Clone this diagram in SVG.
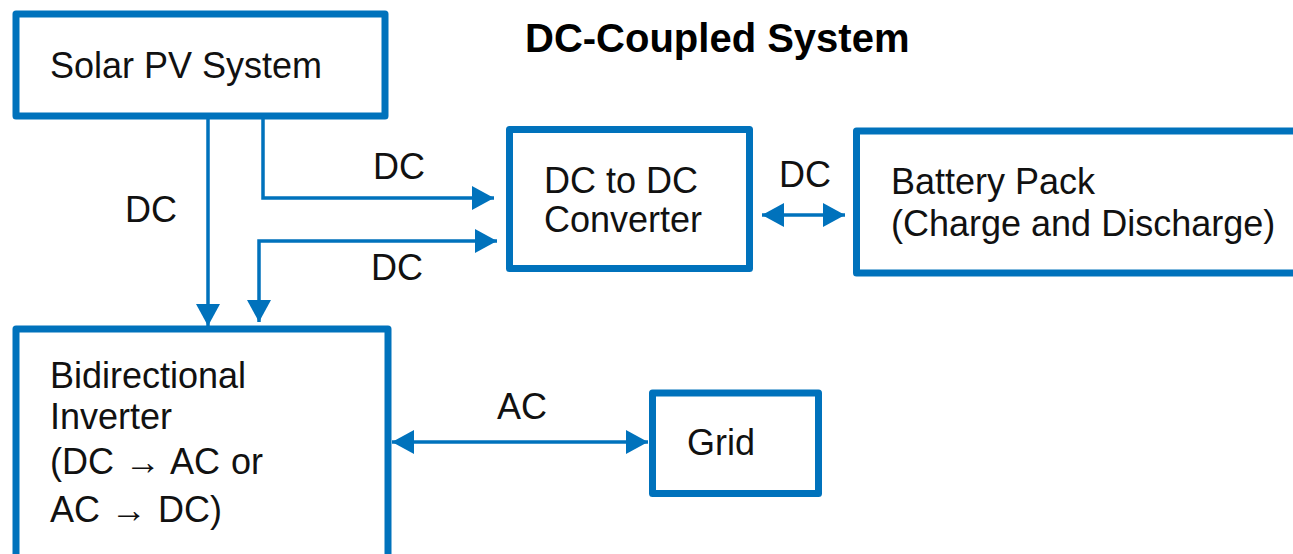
<svg xmlns="http://www.w3.org/2000/svg" width="1293" height="554" viewBox="0 0 1293 554">
<style>
.box{fill:#fff;stroke:#0072BC;stroke-width:7;stroke-linejoin:round}
.t{font-family:"Liberation Sans",Arial,sans-serif;font-size:36px;fill:#111}
.ws{word-spacing:1px}
.title{font-family:"Liberation Sans",Arial,sans-serif;font-size:40px;font-weight:bold;fill:#000}
.c{fill:none;stroke:#0072BC;stroke-width:3.5}
</style>
<defs>
<marker id="ah" markerUnits="userSpaceOnUse" markerWidth="22" markerHeight="24" refX="22" refY="12" orient="auto-start-reverse" viewBox="0 0 22 24">
<path d="M0,0 L22,12 L0,24 z" fill="#0072BC"/>
</marker>
</defs>
<rect width="1293" height="554" fill="#fff"/>
<text class="title" x="525" y="52">DC-Coupled System</text>
<g id="solar">
<rect class="box" x="16" y="14" width="369" height="102"/>
<text class="t" x="50" y="78">Solar PV System</text>
</g>
<g id="dcdc">
<rect class="box" x="509.5" y="129.5" width="240" height="139"/>
<text class="t" x="544" y="193">DC to DC</text>
<text class="t" x="544" y="232">Converter</text>
</g>
<g id="battery">
<rect class="box" x="856.5" y="131" width="460" height="142"/>
<text class="t" x="891" y="194">Battery Pack</text>
<text class="t" x="891" y="236">(Charge and Discharge)</text>
</g>
<g id="inverter">
<rect class="box" x="16" y="329" width="372" height="240"/>
<text class="t" x="50" y="388">Bidirectional</text>
<text class="t" x="50" y="429">Inverter</text>
<text class="t ws" x="50" y="474">(DC → AC or</text>
<text class="t ws" x="50" y="522">AC → DC)</text>
</g>
<g id="grid">
<rect class="box" x="652.5" y="393" width="166" height="100.5"/>
<text class="t" x="687" y="455">Grid</text>
</g>
<g id="connectors">
<path class="c" d="M208,119 V326" marker-end="url(#ah)"/>
<path class="c" d="M263,119 V198 H494" marker-end="url(#ah)"/>
<path class="c" d="M497,241 H259 V322" marker-start="url(#ah)" marker-end="url(#ah)"/>
<path class="c" d="M762,215 H845" marker-start="url(#ah)" marker-end="url(#ah)"/>
<path class="c" d="M392,442 H648" marker-start="url(#ah)" marker-end="url(#ah)"/>
<text class="t" x="125" y="222">DC</text>
<text class="t" x="373" y="179">DC</text>
<text class="t" x="371" y="280">DC</text>
<text class="t" x="779" y="187">DC</text>
<text class="t" x="497" y="419">AC</text>
</g>
</svg>
